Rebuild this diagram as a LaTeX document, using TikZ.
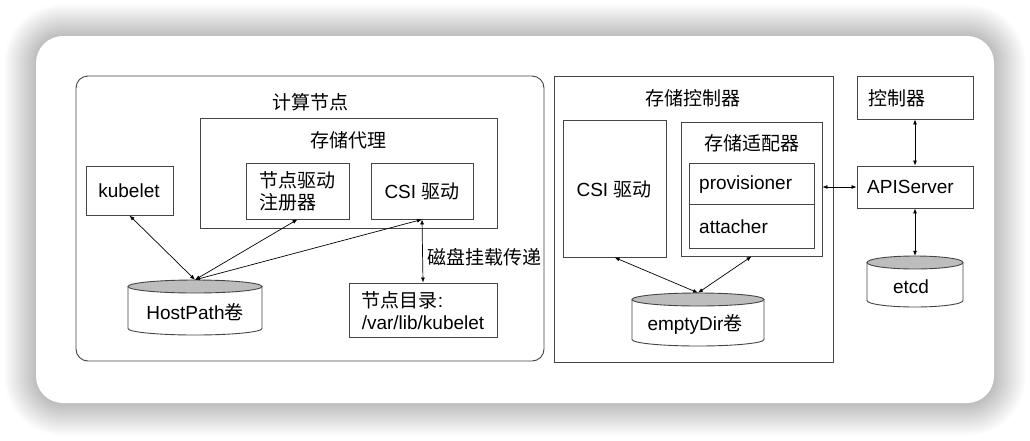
\documentclass[tikz,border=0pt]{standalone}
\usepackage{fontspec}
\setmainfont{Liberation Sans}
\newfontfamily\cjk{Noto Sans CJK SC}
\usepackage{tikz}
\usetikzlibrary{calc}
\usetikzlibrary{arrows.meta}
\definecolor{edgegray}{HTML}{454545}
\definecolor{drumtop}{HTML}{BDBDBD}
\tikzset{
  cellline/.style={draw=edgegray, line width=0.9pt, inner sep=0pt, fill=none},
  labltext/.style={inner sep=0pt, align=left, font=\fontsize{19}{22}\selectfont},
  link/.style={<->, >={Latex[length=5pt,width=4pt]}, line width=0.7pt, black}
}
\newcommand{\cellbox}[5]{\node[cellline, minimum width={(#4-#2)*1pt}, minimum height={(#5-#3)*1pt}] (#1) at ( #2 * 0.5 + #4 * 0.5 , #3 * 0.5 + #5 * 0.5 ) {};}
\newcommand{\drum}[5]{\draw[cellline, fill=white] ( #2 - #5 , #3 + 6.5 ) -- ( #2 - #5 , #4 - 6.5 ) arc[start angle=180, end angle=360, x radius=#5pt, y radius=6.5pt] -- ( #2 + #5 , #3 + 6.5 ); \draw[cellline, fill=drumtop] ( #2 , #3 + 6.5 ) ellipse [x radius=#5pt, y radius=6.5pt]; \node[inner sep=0pt, minimum width={2*#5pt}, minimum height={(#4-#3)*1pt}] (#1) at ( #2 , #3 * 0.5 + #4 * 0.5 ) {};}
\newcommand{\lablnode}[4]{\node[labltext] (#1) at ( #2 , #3 ) {#4};}
\newcommand{\lablnodeL}[4]{\node[labltext, anchor=west] (#1) at ( #2 , #3 ) {#4};}

\begin{document}
\begin{tikzpicture}[x=1pt, y=-1pt]
        \useasboundingbox (0,0) rectangle (1030,440);
        % card and its shadow
        \foreach \s in {1,...,32} {
          \fill[black, opacity=0.006, rounded corners={(27+\s)*1pt}] (36-\s,36-\s) rectangle (994+\s,404+\s);
        }
        \fill[white, rounded corners=27pt] (36,36) rectangle (994,403);
        % compute node
        \draw[edgegray, line width=0.9pt, rounded corners=12pt] (76,76) rectangle (544,361);
        \cellbox{agent}{200}{118}{497}{228}
        \cellbox{registrar}{246}{163}{349}{219}
        \cellbox{csinode}{371}{163}{473}{219}
        \cellbox{kubelet}{86}{166}{173}{215}
        \cellbox{nodedir}{349}{283}{497}{337}
        \drum{hostpath}{195}{280}{335}{67}
        % storage controller
        \cellbox{controller}{554}{76}{833}{362}
        \cellbox{csictrl}{563}{120}{666}{257}
        \cellbox{adapter}{681}{122}{822}{256}
        \cellbox{provisioner}{689}{163}{814}{204}
        \cellbox{attacher}{689}{204}{814}{248}
        \drum{emptydir}{698}{293}{346}{66}
        % control plane
        \cellbox{manager}{857}{76}{973}{119}
        \cellbox{apiserver}{857}{166}{973}{208}
        \drum{etcd}{915}{256}{307}{48}
        % labels for compute node
        \lablnode{computelbl}{310}{102}{\cjk 计算节点}
        \lablnode{agentlbl}{348}{140}{\cjk 存储代理}
        \lablnode{registrarlbl}{297.5}{191}{{\cjk 节点驱动}\\{\cjk 注册器}}
        \lablnode{csinodelbl}{422}{191}{CSI {\cjk 驱动}}
        \lablnode{kubeletlbl}{129}{191}{kubelet}
        \lablnode{hostpathlbl}{195}{312}{HostPath{\cjk 卷}}
        \lablnode{nodedirlbl}{423}{311}{{\cjk 节点目录}:\\/var/lib/kubelet}
        \lablnodeL{mountlbl}{427}{257}{\cjk 磁盘挂载传递}
        % labels for storage controller
        \lablnode{controllerlbl}{693}{98}{\cjk 存储控制器}
        \lablnode{csictrllbl}{614}{189}{CSI {\cjk 驱动}}
        \lablnode{adapterlbl}{752}{143}{\cjk 存储适配器}
        \lablnodeL{provisionerlbl}{699}{185}{provisioner}
        \lablnodeL{attacherlbl}{699}{227}{attacher}
        \lablnode{emptydirlbl}{695}{324}{emptyDir{\cjk 卷}}
        % labels for control plane
        \lablnodeL{managerlbl}{868}{98}{\cjk 控制器}
        \lablnodeL{apiserverlbl}{867}{187}{APIServer}
        \lablnode{etcdlbl}{911}{287}{etcd}
        % links
        \draw[link] (kubelet.south) -- (hostpath.north);
        \draw[link] (registrar.south) -- (hostpath.north);
        \draw[link] (csinode.south) -- (hostpath.north);
        \draw[link] (csinode.south) -- (nodedir.north);
        \draw[link] (csictrl.south) -- (emptydir.north);
        \draw[link] (adapter.south) -- (emptydir.north);
        \draw[link] (apiserver.west -| adapter.east) -- (apiserver.west);
        \draw[link] (manager.south) -- (apiserver.north);
        \draw[link] (apiserver.south) -- (etcd.north);
\end{tikzpicture}
\end{document}
